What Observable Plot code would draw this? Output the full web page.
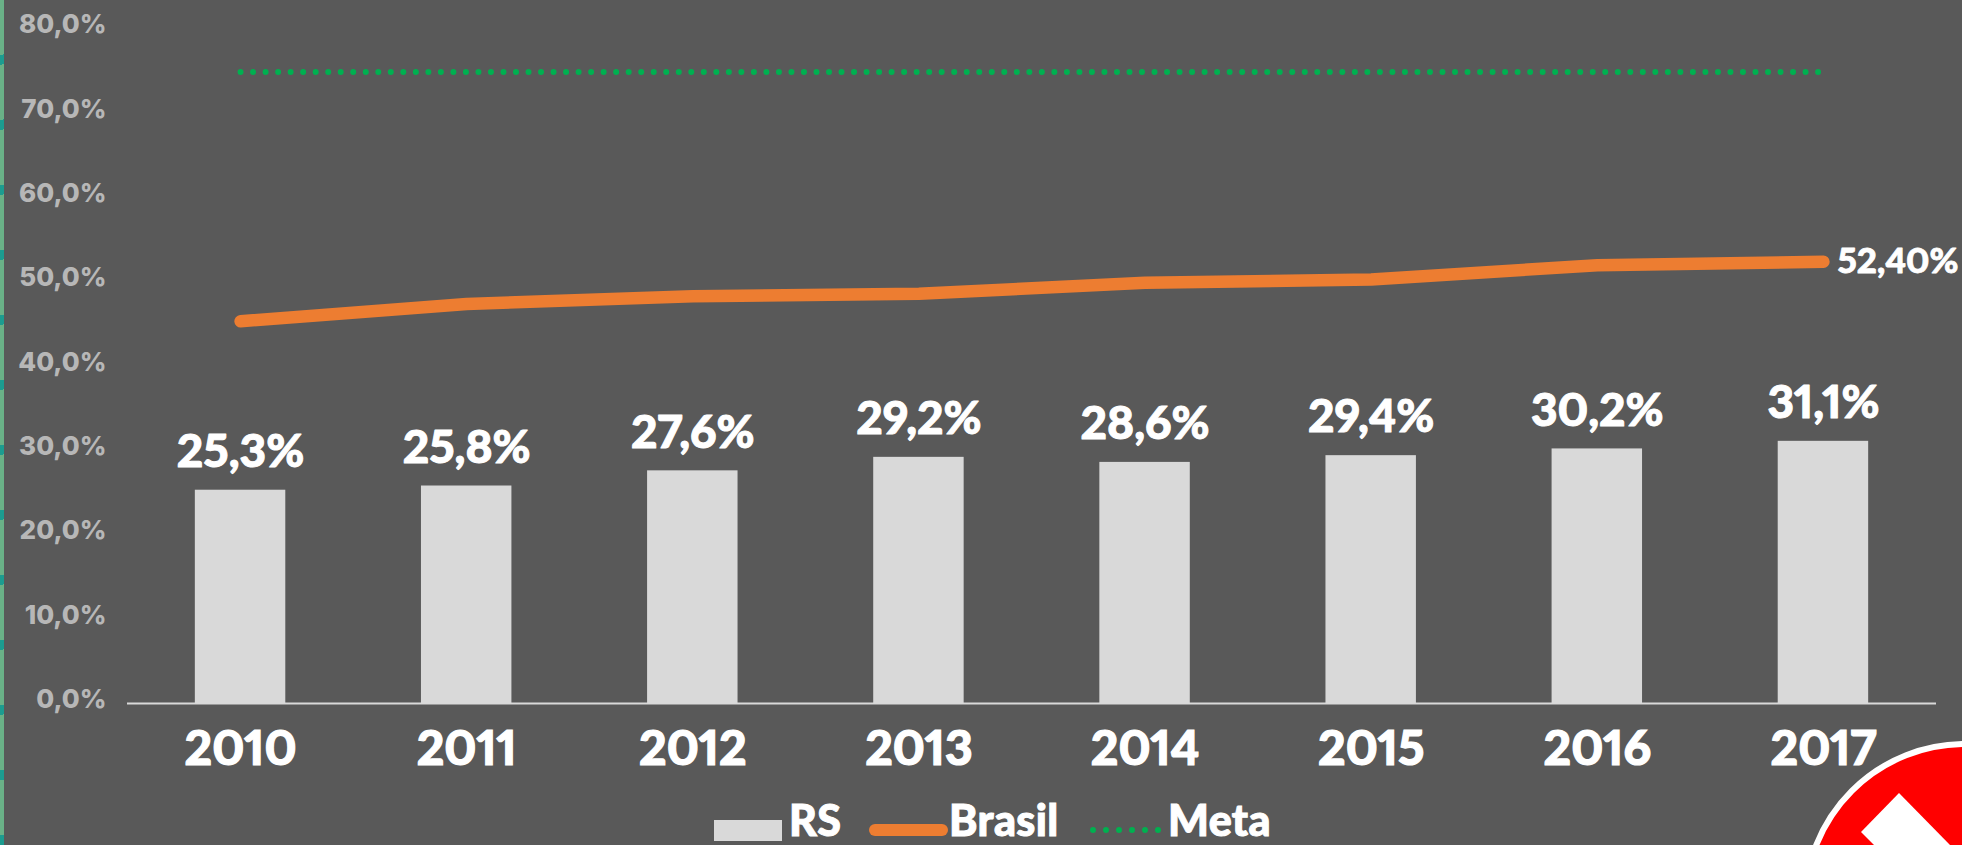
<!DOCTYPE html>
<html><head><meta charset="utf-8">
<script src="https://cdn.jsdelivr.net/npm/d3@7"></script>
<script src="https://cdn.jsdelivr.net/npm/@observablehq/plot@0.6"></script>
<style>
html,body{margin:0;padding:0;background:#595959;overflow:hidden}
#page{position:relative;width:1962px;height:845px;overflow:hidden;background:#595959;font-family:Lato,sans-serif}
#strip{position:absolute;left:0;top:0;width:4px;height:845px;background:repeating-linear-gradient(168deg,#6ab187 0 54px,#1c9c90 54px 63.6px)}
#chart{position:absolute;left:0;top:0}
#chart svg{display:block;background:transparent}
#chart text{font-variant-numeric:proportional-nums}
#chart g[aria-label="x-axis tick label"] text{stroke:#fff;stroke-width:1.2px}
.lg{position:absolute;color:#fff;font-weight:900;font-size:43px;letter-spacing:.4px;line-height:41px;top:798.5px;-webkit-text-stroke:1px #fff}
#deco{position:absolute;left:0;top:0}
</style></head><body>
<div id="page">
<div id="strip"></div>
<div id="chart"></div>
<svg id="deco" width="1962" height="845">
  <rect x="714" y="820" width="68" height="21" fill="#d9d9d9"/>
  <line x1="875" x2="942" y1="830" y2="830" stroke="#ed7d31" stroke-width="12" stroke-linecap="round"/>
  <line x1="1093" x2="1160" y1="830" y2="830" stroke="#00b050" stroke-width="6" stroke-linecap="round" stroke-dasharray="0 13"/>
  <circle cx="1965" cy="904" r="160" fill="#ff0000" stroke="#fff" stroke-width="6"/>
  <polygon points="1899,793 1861,832 1874,845 1950,845" fill="#fff"/>
</svg>
<div class="lg" style="left:789px">RS</div>
<div class="lg" style="left:949px">Brasil</div>
<div class="lg" style="left:1168px">Meta</div>
</div>
<script>
const years = [2010,2011,2012,2013,2014,2015,2016,2017];
const rs = [25.3,25.8,27.6,29.2,28.6,29.4,30.2,31.1];
const brasil = [45.35,47.4,48.3,48.6,49.9,50.3,52.0,52.4];
const meta = [74.9,74.9,74.9,74.9,74.9,74.9,74.9,74.9];
const yTicks = [0,10,20,30,40,50,60,70,80];
const brasilLastLabel = "52,40%";
const fmt = d => d.toFixed(1).replace(".", ",") + "%";
const rows = years.map((y,i)=>({year:y, rs:rs[i], brasil:brasil[i], meta:meta[i]}));
const last = rows.slice(-1);

const plot = Plot.plot({
  width:1962, height:780,
  marginLeft:127, marginRight:26, marginTop:28.6, marginBottom:77,
  style:{background:"transparent", fontFamily:"Lato, sans-serif", overflow:"visible"},
  x:{type:"band", domain:years, paddingInner:0.6, paddingOuter:0.3, round:false, label:null},
  y:{domain:[0,80], label:null},
  marks:[
    Plot.barY(rows,{x:"year", y:"rs", fill:"#d9d9d9"}),
    Plot.ruleY([0],{stroke:"#d9d9d9", strokeWidth:2}),
    Plot.axisY({ticks:yTicks, tickFormat:fmt, tickSize:0, tickPadding:21, fontSize:26, fontWeight:800, fontFamily:"Inter, sans-serif", color:"#b7b7b7", dy:-4}),
    Plot.axisX({tickSize:0, tickPadding:27, fontSize:48, fontWeight:900, color:"#fff", tickFormat:d=>String(d)}),
    Plot.line(rows,{x:"year", y:"brasil", stroke:"#ed7d31", strokeWidth:12.5, strokeLinecap:"round", strokeLinejoin:"round"}),
    Plot.line(rows,{x:"year", y:"meta", stroke:"#00b050", strokeWidth:6, strokeLinecap:"round", strokeDasharray:"0 12.52"}),
    Plot.text(rows,{x:"year", y:"rs", text:d=>fmt(d.rs), fill:"#fff", stroke:"#fff", strokeWidth:1, fontSize:46, fontWeight:900, dy:-38}),
    Plot.text(last,{x:"year", y:"brasil", text:()=>brasilLastLabel, fill:"#fff", stroke:"#fff", strokeWidth:0.8, fontSize:35, fontWeight:900, textAnchor:"start", dx:14})
  ]
});
document.getElementById("chart").appendChild(plot);
</script>
</body></html>
